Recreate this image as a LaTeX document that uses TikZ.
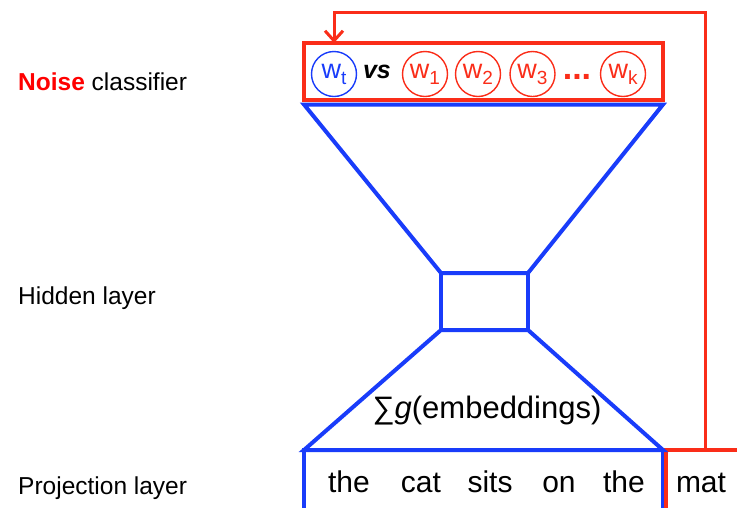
\documentclass[tikz,border=0pt]{standalone}
\usepackage{fontspec}
\setmainfont{Liberation Sans}
\usetikzlibrary{positioning,arrows.meta}
\definecolor{netblue}{RGB}{25,60,250}
\definecolor{netred}{RGB}{250,45,25}
\definecolor{noisered}{RGB}{255,0,0}
\newcommand{\wsub}[1]{w\raisebox{-6pt}{\fontsize{19}{19}\selectfont #1}}
\tikzset{
  layerbox/.style={draw=netblue, line width=4pt, outer sep=0pt, inner sep=0pt},
  noisebox/.style={draw=netred, line width=4pt, outer sep=0pt, inner sep=0pt},
  wordcirc/.style={circle, draw=#1, text=#1, line width=1.4pt, minimum size=45pt,
    inner sep=0pt, font=\fontsize{27}{27}\selectfont},
  lbl/.style={anchor=base west, inner sep=0pt, font=\fontsize{24.5}{28}\selectfont},
  word/.style={anchor=base, inner sep=0pt, font=\fontsize{30}{34}\selectfont},
}
\begin{document}
\begin{tikzpicture}[x=1pt, y=-1pt]
  \useasboundingbox (0,0) rectangle (737,507);
  \clip (0,0) rectangle (737,507);
  % labels on the left
  \node[lbl] (noiselbl) at (18,90) {\textcolor{noisered}{\textbf{Noise}} classifier};
  \node[lbl] (hiddenlbl) at (18,304) {Hidden layer};
  \node[lbl] (projlbl) at (18,494) {Projection layer};

  % boxes
  \node[noisebox, minimum width=359pt, minimum height=57pt] (noise) at (483.5,71.5) {};
  \node[layerbox, minimum width=87pt, minimum height=57pt] (hidden) at (484.5,301.5) {};
  \node[layerbox, minimum width=359pt, minimum height=70pt] (proj) at (483.5,485) {};
  \node[noisebox, minimum width=79pt, minimum height=70pt] (mat) at (705.5,485) {};

  % the two funnels
  \draw[netblue, line width=4pt, line join=miter]
    ([yshift=-4.5pt]noise.south west) -- ([yshift=-4.5pt]noise.south east)
    -- (hidden.north east) -- (hidden.north west) -- cycle;
  \draw[netblue, line width=4pt, line join=miter]
    (hidden.south west) -- (hidden.south east) -- (proj.north east) -- (proj.north west) -- cycle;
  \node[font=\fontsize{31}{34}\selectfont, inner sep=0pt] (sumg) at (487,411) {∑\textit{g}(embeddings)};

  % context words
  \node[word] (the1) at (349,492) {the};
  \node[word] (cat) at (421,492) {cat};
  \node[word] (sits) at (490,492) {sits};
  \node[word] (on) at (559,492) {on};
  \node[word] (the2) at (624,492) {the};
  \node[word] (matw) at (701,492) {mat};

  % target vs noise samples
  \node[wordcirc=netblue] (wt) at (334,74) {\wsub{t}};
  \node[font=\fontsize{25}{25}\selectfont\bfseries\itshape, inner sep=0pt] (vs) at (377,72) {vs};
  \node[wordcirc=netred] (w1) at (425,74) {\wsub{1}};
  \node[wordcirc=netred] (w2) at (478,74) {\wsub{2}};
  \node[wordcirc=netred] (w3) at (532.5,74) {\wsub{3}};
  \node[text=netred, font=\fontsize{34}{34}\selectfont\bfseries, inner sep=0pt, anchor=base] (dots) at (577,79) {...};
  \node[wordcirc=netred] (wk) at (623,74) {\wsub{k}};

  % feedback from the target word
  \coordinate (loop) at (334,12);
  \draw[netred, line width=3pt, -{Straight Barb[length=10pt, width=18pt, line width=3pt]}]
    (mat.north) |- (loop) -- (loop |- noise.north);
\end{tikzpicture}
\end{document}
